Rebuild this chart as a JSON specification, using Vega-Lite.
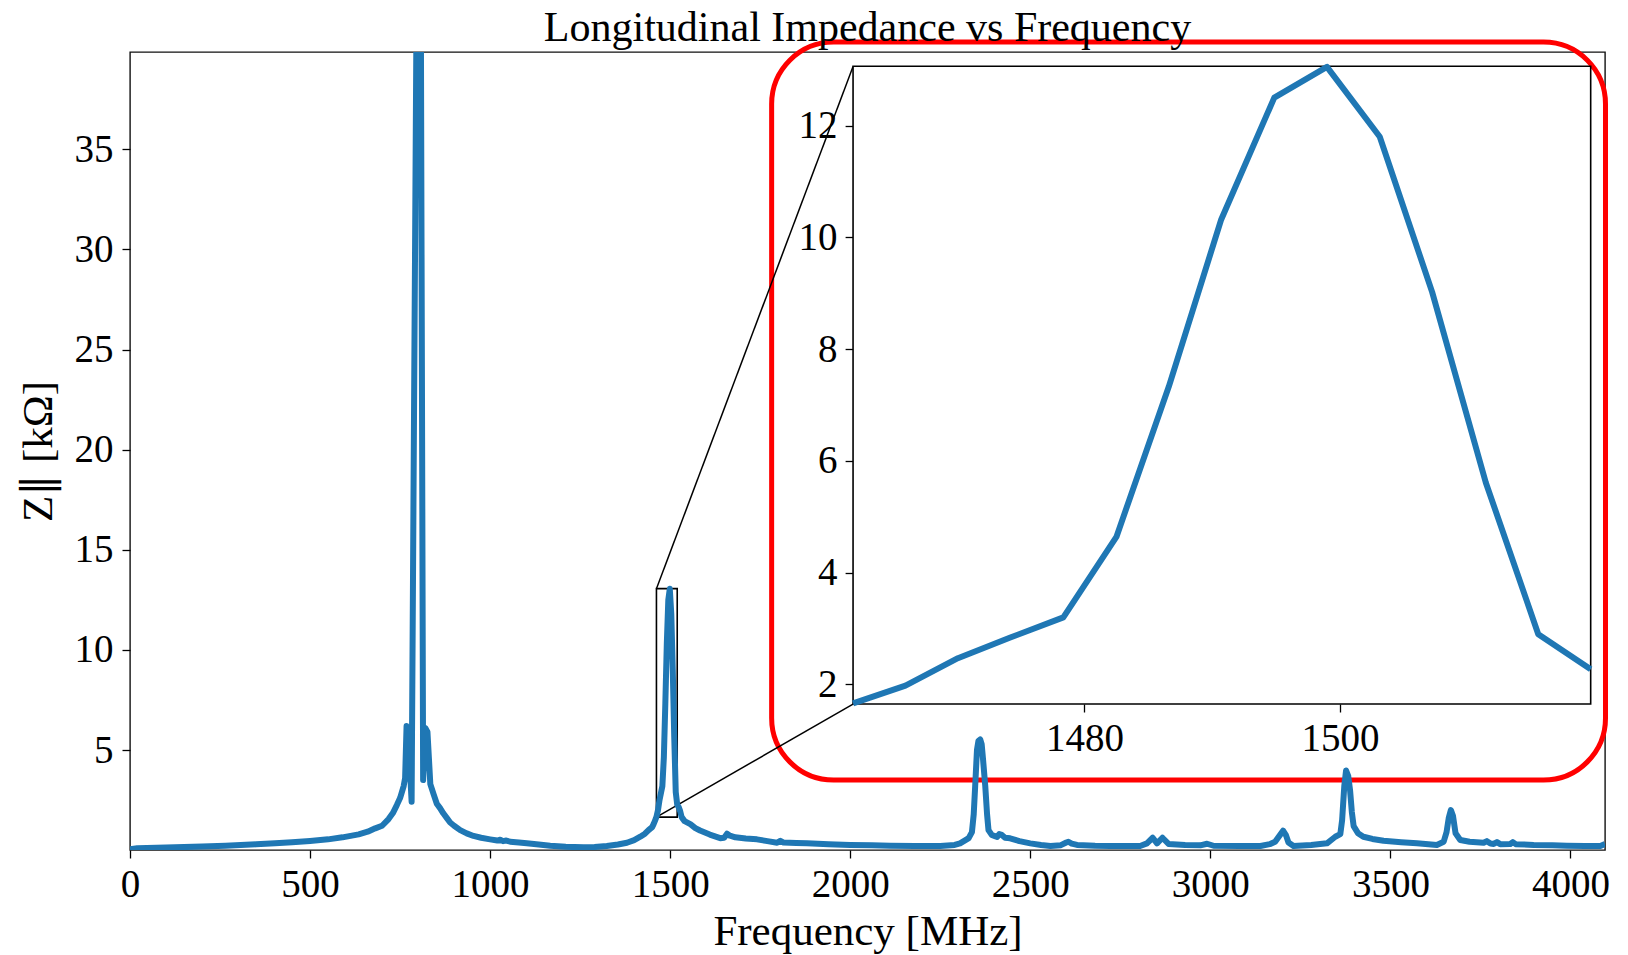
{
  "$schema": "https://vega.github.io/schema/vega-lite/v6.json",
  "width": 1475,
  "height": 798,
  "autosize": {"type": "none"},
  "padding": {"left": 130, "top": 52, "right": 23, "bottom": 105},
  "background": "white",
  "config": {
    "view": {"stroke": "#111", "strokeWidth": 1.4},
    "font": "Liberation Serif",
    "axis": {
      "labelFont": "Liberation Serif",
      "titleFont": "Liberation Serif",
      "labelColor": "black",
      "titleColor": "black",
      "tickColor": "black",
      "domain": false,
      "grid": false,
      "labelFontSize": 39,
      "tickSize": 8,
      "tickWidth": 1.3,
      "titleFontWeight": "normal",
      "titleFontSize": 43,
      "labelFlush": false,
      "labelOverlap": false,
      "labelBound": false
    }
  },
  "title": {
    "text": "Longitudinal Impedance vs Frequency",
    "font": "Liberation Serif",
    "fontSize": 42,
    "fontWeight": "normal",
    "color": "black",
    "baseline": "alphabetic",
    "offset": -43.5
  },
  "datasets": {
    "main": [
      {"f": 0, "z": 0.05}, {"f": 20, "z": 0.1}, {"f": 100, "z": 0.13}, {"f": 200, "z": 0.18},
      {"f": 265, "z": 0.22}, {"f": 350, "z": 0.29}, {"f": 403, "z": 0.34}, {"f": 450, "z": 0.4},
      {"f": 500, "z": 0.46}, {"f": 550, "z": 0.54}, {"f": 590, "z": 0.64}, {"f": 635, "z": 0.79},
      {"f": 660, "z": 0.92}, {"f": 681, "z": 1.09}, {"f": 700, "z": 1.22}, {"f": 718, "z": 1.55},
      {"f": 730, "z": 1.85}, {"f": 741, "z": 2.25}, {"f": 750, "z": 2.6}, {"f": 755, "z": 2.9},
      {"f": 760, "z": 3.2}, {"f": 764, "z": 3.6}, {"f": 768, "z": 6.2}, {"f": 772, "z": 6.0},
      {"f": 782, "z": 2.42}, {"f": 795, "z": 39.86}, {"f": 808, "z": 39.86}, {"f": 814, "z": 3.5},
      {"f": 820, "z": 6.1}, {"f": 826, "z": 5.9}, {"f": 834, "z": 3.3}, {"f": 843, "z": 2.8},
      {"f": 852, "z": 2.32}, {"f": 861, "z": 2.1}, {"f": 870, "z": 1.84}, {"f": 880, "z": 1.6},
      {"f": 889, "z": 1.38}, {"f": 900, "z": 1.22}, {"f": 917, "z": 1.0}, {"f": 935, "z": 0.84},
      {"f": 954, "z": 0.71}, {"f": 975, "z": 0.62}, {"f": 1000, "z": 0.54}, {"f": 1020, "z": 0.48},
      {"f": 1028, "z": 0.52}, {"f": 1036, "z": 0.45}, {"f": 1045, "z": 0.48}, {"f": 1056, "z": 0.42},
      {"f": 1080, "z": 0.38}, {"f": 1102, "z": 0.34}, {"f": 1135, "z": 0.28}, {"f": 1167, "z": 0.22},
      {"f": 1210, "z": 0.17}, {"f": 1259, "z": 0.14}, {"f": 1290, "z": 0.16}, {"f": 1324, "z": 0.21},
      {"f": 1355, "z": 0.28}, {"f": 1380, "z": 0.37}, {"f": 1400, "z": 0.5}, {"f": 1417, "z": 0.67},
      {"f": 1430, "z": 0.82}, {"f": 1440, "z": 1.0}, {"f": 1450, "z": 1.15}, {"f": 1454, "z": 1.3},
      {"f": 1458, "z": 1.48},
      {"f": 1461.9, "z": 1.66}, {"f": 1466.0, "z": 1.98}, {"f": 1470.1, "z": 2.47}, {"f": 1474.2, "z": 2.84},
      {"f": 1478.35, "z": 3.2}, {"f": 1482.5, "z": 4.64}, {"f": 1486.6, "z": 7.33}, {"f": 1490.7, "z": 10.32},
      {"f": 1494.85, "z": 12.5}, {"f": 1498.97, "z": 13.05}, {"f": 1503.1, "z": 11.8}, {"f": 1507.2, "z": 9.02},
      {"f": 1511.4, "z": 5.61}, {"f": 1515.5, "z": 2.9}, {"f": 1519.6, "z": 2.27},
      {"f": 1523.7, "z": 2.15}, {"f": 1527.8, "z": 1.95}, {"f": 1531.9, "z": 1.65}, {"f": 1540, "z": 1.45},
      {"f": 1556, "z": 1.3}, {"f": 1570, "z": 1.1}, {"f": 1583, "z": 0.98}, {"f": 1610, "z": 0.78},
      {"f": 1639, "z": 0.6}, {"f": 1650, "z": 0.62}, {"f": 1658, "z": 0.82}, {"f": 1666, "z": 0.72},
      {"f": 1681, "z": 0.64}, {"f": 1710, "z": 0.58}, {"f": 1741, "z": 0.54}, {"f": 1770, "z": 0.45},
      {"f": 1797, "z": 0.37}, {"f": 1806, "z": 0.47}, {"f": 1815, "z": 0.38}, {"f": 1850, "z": 0.36},
      {"f": 1880, "z": 0.34}, {"f": 1940, "z": 0.3}, {"f": 2000, "z": 0.26}, {"f": 2060, "z": 0.24},
      {"f": 2111, "z": 0.22}, {"f": 2180, "z": 0.21}, {"f": 2250, "z": 0.21}, {"f": 2290, "z": 0.26},
      {"f": 2305, "z": 0.34}, {"f": 2320, "z": 0.5}, {"f": 2329, "z": 0.6}, {"f": 2338, "z": 0.9},
      {"f": 2343, "z": 1.8}, {"f": 2347, "z": 3.2}, {"f": 2352, "z": 5.0}, {"f": 2356, "z": 5.45},
      {"f": 2361, "z": 5.53}, {"f": 2365, "z": 5.3}, {"f": 2369, "z": 4.5}, {"f": 2375, "z": 3.2},
      {"f": 2380, "z": 1.8}, {"f": 2384, "z": 1.0}, {"f": 2393, "z": 0.76}, {"f": 2402, "z": 0.7},
      {"f": 2408, "z": 0.66}, {"f": 2414, "z": 0.8}, {"f": 2421, "z": 0.76}, {"f": 2430, "z": 0.62},
      {"f": 2444, "z": 0.59}, {"f": 2470, "z": 0.45}, {"f": 2500, "z": 0.34}, {"f": 2530, "z": 0.26},
      {"f": 2556, "z": 0.21}, {"f": 2585, "z": 0.25}, {"f": 2600, "z": 0.38}, {"f": 2606, "z": 0.42},
      {"f": 2615, "z": 0.33}, {"f": 2630, "z": 0.26}, {"f": 2680, "z": 0.22}, {"f": 2722, "z": 0.21},
      {"f": 2805, "z": 0.21}, {"f": 2824, "z": 0.34}, {"f": 2840, "z": 0.62}, {"f": 2852, "z": 0.34},
      {"f": 2867, "z": 0.62}, {"f": 2884, "z": 0.31}, {"f": 2930, "z": 0.26}, {"f": 2972, "z": 0.24},
      {"f": 2991, "z": 0.32}, {"f": 3009, "z": 0.22}, {"f": 3080, "z": 0.21}, {"f": 3139, "z": 0.21},
      {"f": 3165, "z": 0.3}, {"f": 3180, "z": 0.42}, {"f": 3193, "z": 0.75}, {"f": 3202, "z": 0.97},
      {"f": 3210, "z": 0.75}, {"f": 3217, "z": 0.38}, {"f": 3231, "z": 0.21}, {"f": 3280, "z": 0.26},
      {"f": 3324, "z": 0.34}, {"f": 3347, "z": 0.67}, {"f": 3361, "z": 0.8}, {"f": 3366, "z": 1.5},
      {"f": 3372, "z": 3.2}, {"f": 3377, "z": 3.98}, {"f": 3383, "z": 3.7}, {"f": 3388, "z": 3.0},
      {"f": 3393, "z": 1.9}, {"f": 3398, "z": 1.2}, {"f": 3410, "z": 0.85}, {"f": 3425, "z": 0.67},
      {"f": 3450, "z": 0.56}, {"f": 3481, "z": 0.47}, {"f": 3530, "z": 0.4}, {"f": 3574, "z": 0.34},
      {"f": 3629, "z": 0.26}, {"f": 3648, "z": 0.42}, {"f": 3656, "z": 0.9}, {"f": 3662, "z": 1.6},
      {"f": 3668, "z": 2.0}, {"f": 3674, "z": 1.7}, {"f": 3681, "z": 0.84}, {"f": 3694, "z": 0.51},
      {"f": 3720, "z": 0.42}, {"f": 3759, "z": 0.37}, {"f": 3768, "z": 0.45}, {"f": 3778, "z": 0.33},
      {"f": 3787, "z": 0.31}, {"f": 3796, "z": 0.4}, {"f": 3805, "z": 0.3}, {"f": 3833, "z": 0.31},
      {"f": 3840, "z": 0.4}, {"f": 3848, "z": 0.3}, {"f": 3898, "z": 0.26}, {"f": 3950, "z": 0.24},
      {"f": 3990, "z": 0.22}, {"f": 4040, "z": 0.21}, {"f": 4083, "z": 0.21}, {"f": 4096, "z": 0.31}
    ],
    "inset": [
      {"f": 1461.9, "z": 1.66}, {"f": 1466.0, "z": 1.98}, {"f": 1470.1, "z": 2.47}, {"f": 1474.2, "z": 2.84},
      {"f": 1478.35, "z": 3.2}, {"f": 1482.5, "z": 4.64}, {"f": 1486.6, "z": 7.33}, {"f": 1490.7, "z": 10.32},
      {"f": 1494.85, "z": 12.5}, {"f": 1498.97, "z": 13.05}, {"f": 1503.1, "z": 11.8}, {"f": 1507.2, "z": 9.02},
      {"f": 1511.4, "z": 5.61}, {"f": 1515.5, "z": 2.9}, {"f": 1519.6, "z": 2.27}
    ],
    "redbox": [{"f": 1781.8, "f2": 4097.4, "z": 40.356, "z2": 3.502}],
    "links": [
      {"f": 1461.9, "z": 13.06, "f2": 2007.9, "z2": 39.14},
      {"f": 1461.9, "z": 1.65, "f2": 2007.9, "z2": 7.296}
    ],
    "zoombox": [{"f": 1461.9, "f2": 1519.6, "z": 1.65, "z2": 13.06}],
    "insetframe": [{"f": 1461.9, "f2": 1519.6, "z": 1.65, "z2": 13.06}]
  },
  "layer": [
    {
      "encoding": {
        "x": {
          "field": "f", "type": "quantitative",
          "scale": {"domain": [0, 4096], "nice": false, "zero": false},
          "axis": {
            "values": [0, 500, 1000, 1500, 2000, 2500, 3000, 3500, 4000],
            "format": "d", "title": "Frequency [MHz]",
            "labelPadding": 7, "titlePadding": 6
          }
        },
        "y": {
          "field": "z", "type": "quantitative",
          "scale": {"domain": [0.008, 39.86], "nice": false, "zero": false},
          "axis": {
            "values": [5, 10, 15, 20, 25, 30, 35],
            "format": "d", "title": "Z∥  [kΩ]",
            "labelPadding": 9, "titlePadding": 14
          }
        }
      },
      "layer": [
        {
          "data": {"name": "redbox"},
          "mark": {"type": "rect", "fill": "transparent", "stroke": "#ff0000", "strokeWidth": 5, "cornerRadius": 62},
          "encoding": {"x2": {"field": "f2"}, "y2": {"field": "z2"}}
        },
        {
          "data": {"name": "links"},
          "mark": {"type": "rule", "color": "black", "strokeWidth": 1.5},
          "encoding": {"x2": {"field": "f2"}, "y2": {"field": "z2"}}
        },
        {
          "data": {"name": "zoombox"},
          "mark": {"type": "rect", "fill": "transparent", "stroke": "black", "strokeWidth": 1.6},
          "encoding": {"x2": {"field": "f2"}, "y2": {"field": "z2"}}
        },
        {
          "data": {"name": "main"},
          "mark": {"type": "line", "color": "#1f77b4", "strokeWidth": 6, "strokeJoin": "round", "clip": true},
          "encoding": {}
        }
      ]
    },
    {
      "encoding": {
        "x": {
          "field": "f", "type": "quantitative",
          "scale": {"domain": [1405.34, 1520.72], "nice": false, "zero": false},
          "axis": {
            "orient": "bottom", "offset": -146, "values": [1480, 1500],
            "format": "d", "title": null, "labelPadding": 7
          }
        },
        "y": {
          "field": "z", "type": "quantitative",
          "scale": {"domain": [-0.962, 13.316], "nice": false, "zero": false},
          "axis": {
            "orient": "left", "offset": -723.1, "values": [2, 4, 6, 8, 10, 12],
            "format": "d", "title": null, "labelPadding": 8
          }
        }
      },
      "layer": [
        {
          "data": {"name": "insetframe"},
          "mark": {"type": "rect", "fill": "white", "stroke": "black", "strokeWidth": 1.6},
          "encoding": {"x2": {"field": "f2"}, "y2": {"field": "z2"}}
        },
        {
          "data": {"name": "inset"},
          "mark": {"type": "line", "color": "#1f77b4", "strokeWidth": 6, "strokeJoin": "round"},
          "encoding": {}
        }
      ]
    }
  ],
  "resolve": {"scale": {"x": "independent", "y": "independent"}}
}
